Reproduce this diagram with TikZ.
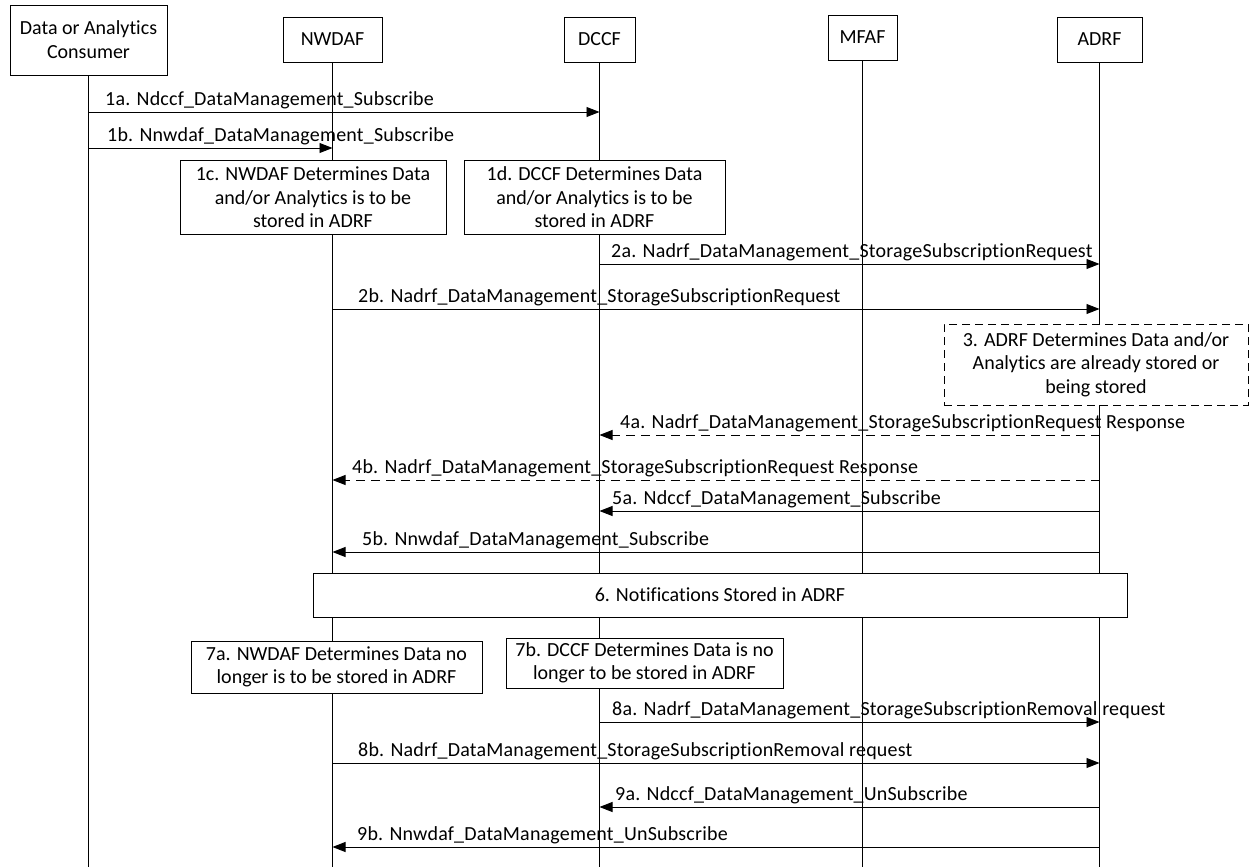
\documentclass[tikz,border=0pt]{standalone}
\usepackage{fontspec}
\setmainfont{Carlito}[Ligatures=NoCommon]
\newfontfamily\lblfont{Carlito}[Ligatures=NoCommon, LetterSpace=1]
\usetikzlibrary{arrows.meta}
\tikzset{
  actor/.style={draw, line width=0.9pt, fill=white, align=center, font=\fontsize{20}{24}\selectfont},
  stepbox/.style={draw, line width=0.9pt, fill=white, align=center, font=\fontsize{20}{23.5}\selectfont, inner sep=0pt},
  notebox/.style={stepbox, dash pattern=on 8pt off 5pt},
  msg/.style={line width=0.9pt, -{Triangle[length=13pt,width=10pt]}},
  reply/.style={msg, dash pattern=on 9pt off 6pt},
  lbl/.style={font=\lblfont\fontsize{20}{24}\selectfont, anchor=base west, inner sep=0pt},
  life/.style={line width=0.9pt}
}

\begin{document}
\begin{tikzpicture}[x=1pt,y=-1pt]
\useasboundingbox (0,0) rectangle (1250,867);

% actors
\node[actor, minimum width=157pt, minimum height=70pt] (consumer) at (88.5,40) {Data or Analytics\\Consumer};
\node[actor, minimum width=99pt, minimum height=45pt] (nwdaf) at (332.5,39.5) {NWDAF};
\node[actor, minimum width=71pt, minimum height=45pt] (dccf) at (599.5,39.5) {DCCF};
\node[actor, minimum width=69pt, minimum height=45pt] (mfaf) at (862.5,37.5) {MFAF};
\node[actor, minimum width=85pt, minimum height=45pt] (adrf) at (1099.5,39.5) {ADRF};

% lifelines
\foreach \a in {consumer,nwdaf,dccf,mfaf,adrf}
  \draw[life] (\a.south) -- (\a.south |- 0,867);

% 1a / 1b
\draw[msg] (consumer.south |- 0,112) -- (dccf.south |- 0,112);
\node[lbl] (l1a) at (105,105) {1a. Ndccf\_DataManagement\_Subscribe};
\draw[msg] (consumer.south |- 0,148) -- (nwdaf.south |- 0,148);
\node[lbl] (l1b) at (107,141) {1b. Nnwdaf\_DataManagement\_Subscribe};

% 1c / 1d
\node[stepbox, minimum width=266pt, minimum height=74pt] (s1c) at (313,197.5)
  {1c. NWDAF Determines Data\\and/or Analytics is to be\\stored in ADRF};
\node[stepbox, minimum width=261pt, minimum height=74pt] (s1d) at (594.5,197.5)
  {1d. DCCF Determines Data\\and/or Analytics is to be\\stored in ADRF};

% 2a / 2b
\draw[msg] (dccf.south |- 0,264) -- (adrf.south |- 0,264);
\node[lbl] (l2a) at (611,257) {2a. Nadrf\_DataManagement\_StorageSubscriptionRequest};
\draw[msg] (nwdaf.south |- 0,309) -- (adrf.south |- 0,309);
\node[lbl] (l2b) at (358,302) {2b. Nadrf\_DataManagement\_StorageSubscriptionRequest};

% 3
\node[notebox, minimum width=304pt, minimum height=81pt] (s3) at (1096,364.5)
  {3. ADRF Determines Data and/or\\Analytics are already stored or\\being stored};

% 4a / 4b
\draw[reply] (adrf.south |- 0,435) -- (dccf.south |- 0,435);
\node[lbl] (l4a) at (620,428) {4a. Nadrf\_DataManagement\_StorageSubscriptionRequest Response};
\draw[reply] (adrf.south |- 0,480) -- (nwdaf.south |- 0,480);
\node[lbl] (l4b) at (352,473) {4b. Nadrf\_DataManagement\_StorageSubscriptionRequest Response};

% 5a / 5b
\draw[msg] (adrf.south |- 0,511) -- (dccf.south |- 0,511);
\node[lbl] (l5a) at (612,504) {5a. Ndccf\_DataManagement\_Subscribe};
\draw[msg] (adrf.south |- 0,552) -- (nwdaf.south |- 0,552);
\node[lbl] (l5b) at (362,545) {5b. Nnwdaf\_DataManagement\_Subscribe};

% 6
\node[stepbox, minimum width=814pt, minimum height=44pt] (s6) at (720,595) {6. Notifications Stored in ADRF};

% 7a / 7b
\node[stepbox, minimum width=291pt, minimum height=52pt] (s7a) at (336.5,667)
  {7a. NWDAF Determines Data no\\longer is to be stored in ADRF};
\node[stepbox, minimum width=277pt, minimum height=50pt] (s7b) at (644.5,663)
  {7b. DCCF Determines Data is no\\longer to be stored in ADRF};

% 8a / 8b
\draw[msg] (dccf.south |- 0,722) -- (adrf.south |- 0,722);
\node[lbl] (l8a) at (612,715) {8a. Nadrf\_DataManagement\_StorageSubscriptionRemoval request};
\draw[msg] (nwdaf.south |- 0,763) -- (adrf.south |- 0,763);
\node[lbl] (l8b) at (358,756) {8b. Nadrf\_DataManagement\_StorageSubscriptionRemoval request};

% 9a / 9b
\draw[msg] (adrf.south |- 0,807) -- (dccf.south |- 0,807);
\node[lbl] (l9a) at (615,800) {9a. Ndccf\_DataManagement\_UnSubscribe};
\draw[msg] (adrf.south |- 0,847) -- (nwdaf.south |- 0,847);
\node[lbl] (l9b) at (357,840) {9b. Nnwdaf\_DataManagement\_UnSubscribe};

\end{tikzpicture}
\end{document}
